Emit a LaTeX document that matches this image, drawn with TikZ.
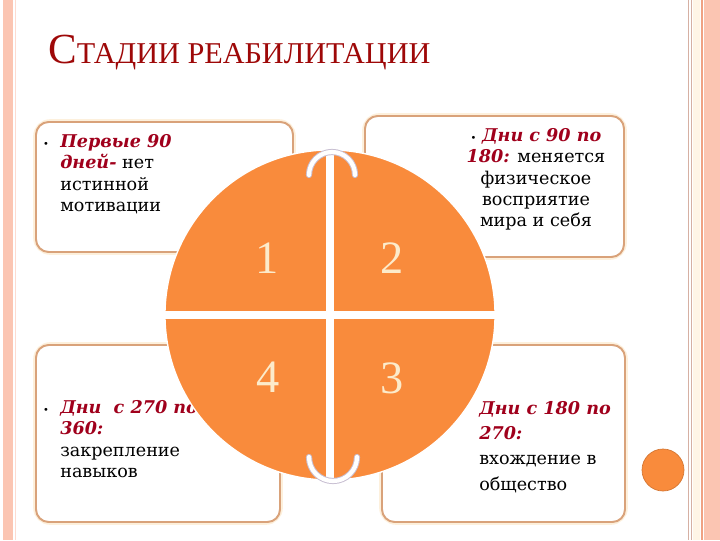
\documentclass[tikz,border=0pt]{standalone}
\usepackage{fontspec}
\setmainfont{DejaVu Serif}
\newfontfamily\titlefont{Liberation Serif}
\definecolor{wheelorange}{HTML}{F98B3C}
\definecolor{boxline}{HTML}{D9A27A}
\definecolor{boxglow}{HTML}{FDF0DC}
\definecolor{headred}{HTML}{9E0808}
\definecolor{stagered}{HTML}{A0001C}
\definecolor{numcream}{HTML}{FCEBCB}
\definecolor{edgepink}{HTML}{FBC5B2}
\definecolor{edgeline}{HTML}{EFA283}
\definecolor{edgecream}{HTML}{FFF5E6}
\definecolor{arcgray}{HTML}{C8BFD2}
\newcommand{\stage}[1]{\textcolor{stagered}{\bfseries\itshape #1}}
\tikzset{
	titlestyle/.style={anchor=base west,inner sep=0pt,text=headred,font=\titlefont},
	boxstyle/.style={draw=boxline,line width=1.4pt,rounded corners=9pt,fill=white},
	glowstyle/.style={draw=boxglow,line width=4pt,rounded corners=10pt},
	textstyle/.style={anchor=north west,align=left,inner sep=0pt,font=\fontsize{12.5}{15.2}\selectfont},
	wheelstyle/.style={circle,fill=wheelorange,draw=white,line width=1pt,minimum size=8.25cm,inner sep=0pt},
	gapstyle/.style={draw=white,line width=5.7pt},
	numstyle/.style={text=numcream,inner sep=0pt,font=\titlefont\fontsize{33}{33}\selectfont},
	turnstyle/.style={draw=arcgray,double=white,double distance=3pt,line width=0.7pt,line cap=round},
	dotstyle/.style={circle,fill=wheelorange,draw=wheelorange!85!black,line width=0.5pt,minimum size=1.05cm,inner sep=0pt}
}
\begin{document}
\begin{tikzpicture}[x=0.025cm,y=-0.025cm]
	\useasboundingbox (0,0) rectangle (720,540);
	% page edges
	\fill[edgepink] (3,0) rectangle (13,540);
	\draw[edgepink!60,line width=0.5pt] (15,0) -- (15,540);
	\draw[edgepink!70!gray,line width=0.5pt] (688,0) -- (688,540);
	\draw[edgepink!70!gray,line width=0.5pt] (691,0) -- (691,540);
	\fill[edgecream] (693,0) rectangle (700,540);
	\draw[edgeline,line width=1pt] (702,0) -- (702,540);
	\fill[edgepink] (704,0) rectangle (720,540);
	% title
	\node[titlestyle] (title) at (48,63) {\fontsize{30.5}{32}\selectfont С\fontsize{21.5}{32}\selectfont ТАДИИ РЕАБИЛИТАЦИИ};
	% stage boxes
	\draw[glowstyle] (36,122) rectangle (293,252);
	\draw[boxstyle] (36,122) rectangle (293,252);
	\draw[glowstyle] (365,116) rectangle (624,257);
	\draw[boxstyle] (365,116) rectangle (624,257);
	\draw[glowstyle] (36,345) rectangle (280,522);
	\draw[boxstyle] (36,345) rectangle (280,522);
	\draw[glowstyle] (382,345) rectangle (625,522);
	\draw[boxstyle] (382,345) rectangle (625,522);
	% stage texts
	\node[textstyle] (txt1) at (60,134) {\llap{\scriptsize\textbullet\hspace{8pt}}\stage{Первые 90}\\\stage{дней-} нет\\истинной\\мотивации};
	\node[textstyle,anchor=north,align=center] (txt2) at (536,128) {{\scriptsize\textbullet}\ \stage{Дни с 90 по}\\\stage{180:} меняется\\физическое\\восприятие\\мира и себя};
	\node[textstyle] (txt4) at (60,400) {\llap{\scriptsize\textbullet\hspace{8pt}}\stage{Дни\ \ с 270 по}\\\stage{360:}\\закрепление\\навыков};
	\node[textstyle,font=\fontsize{12.5}{18}\selectfont] (txt3) at (479,401) {\stage{Дни с 180 по}\\\stage{270:}\\вхождение в\\общество};
	% wheel
	\node[wheelstyle] (wheel) at (330,315) {};
	\draw[gapstyle] (wheel.north) -- (wheel.south);
	\draw[gapstyle] (wheel.west) -- (wheel.east);
	\node[numstyle] (n1) at (267,258) {1};
	\node[numstyle] (n2) at (392,258) {2};
	\node[numstyle] (n4) at (268,377) {4};
	\node[numstyle] (n3) at (392,378) {3};
	% turn arrows
	\draw[turnstyle] (309,175) arc (180:360:23);
	\draw[turnstyle] (309,457) arc (180:0:24);
	\node[dotstyle] (dot) at (663,470) {};
\end{tikzpicture}
\end{document}
